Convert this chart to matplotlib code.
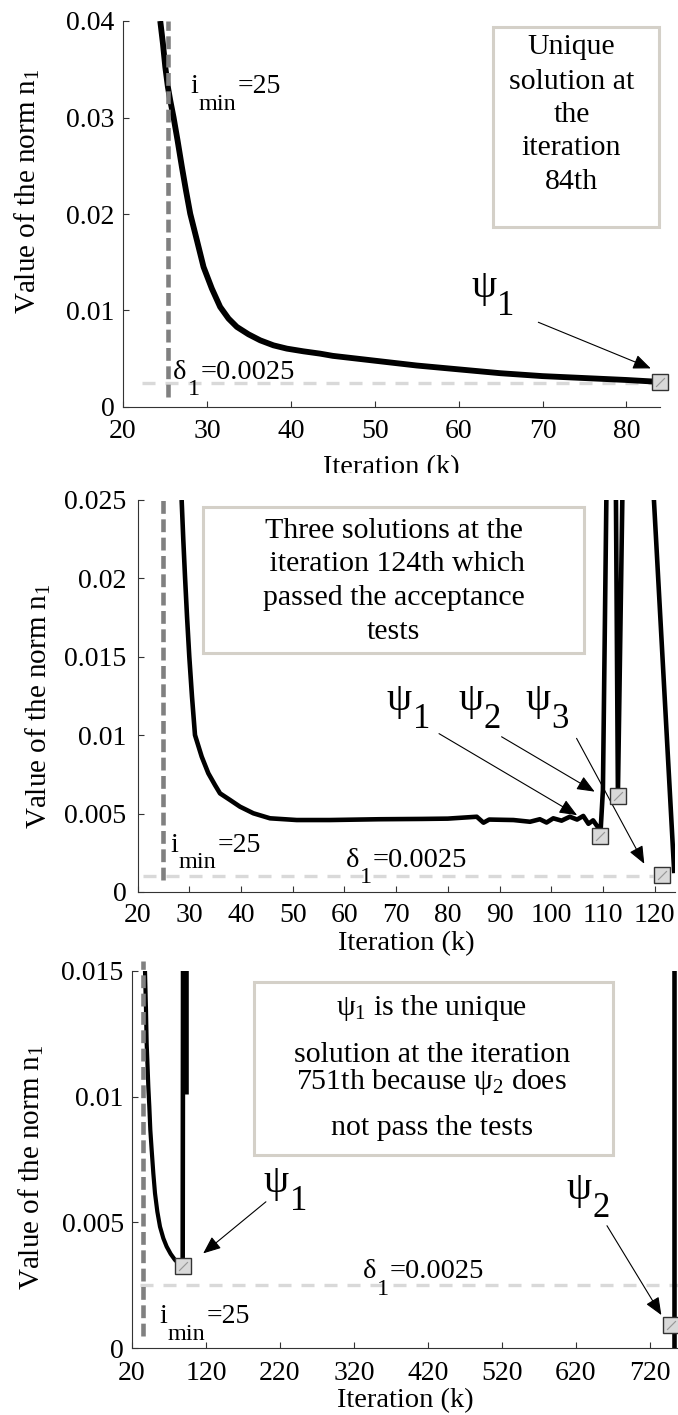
import matplotlib
matplotlib.use("Agg")
import matplotlib.pyplot as plt
from matplotlib.patches import Rectangle
from matplotlib.transforms import Bbox, TransformedBbox

# ---- data ----
# panel 1 : one converging run
p1_iter = [24.44, 24.76, 25.04, 25.35, 25.63, 26.03, 26.50, 27.02, 27.50, 28.01, 28.81, 29.60, 30.59,
           31.58, 32.58, 33.57, 34.96, 36.35, 37.93, 39.52, 41.50, 43.49, 45, 50, 55, 60, 65, 70, 75,
           80, 84]
p1_norm = [0.0400, 0.03765, 0.03524, 0.03316, 0.03178, 0.0300, 0.02764, 0.02487, 0.02246, 0.02004,
           0.01727, 0.01451, 0.01227, 0.01037, 0.00916, 0.00830, 0.00753, 0.00691, 0.00639, 0.00605,
           0.00577, 0.00553, 0.0053, 0.0048, 0.0043, 0.0039, 0.0035, 0.0032, 0.0030, 0.0028, 0.0026]
p1_sol_iter = [84]
p1_sol_norm = [0.0026]

# panel 2 : three solutions
p2_iter = [28.52, 28.84, 29.17, 29.56, 30.0, 30.52, 31.10, 32.40, 33.68, 34.97, 35.94, 37.87, 39.81,
           42.39, 45.61, 50.77, 57.2, 66.7, 75, 80, 85.6, 86.9, 88, 92.7, 95.9, 97.8, 99.1, 100.4, 102,
           103.6, 105, 106.2, 107.2, 108.1, 109.1, 109.5, 110.0, 110.7]
p2_norm = [0.0250, 0.02245, 0.02011, 0.01756, 0.0150, 0.01246, 0.01001, 0.00863, 0.00757, 0.00682,
           0.00629, 0.00587, 0.00544, 0.00502, 0.0047, 0.00459, 0.00459, 0.00464, 0.00466, 0.00468,
           0.0048, 0.00442, 0.00462, 0.00459, 0.00448, 0.00464, 0.00443, 0.0047, 0.00455, 0.0048,
           0.00462, 0.00485, 0.00435, 0.00457, 0.0041, 0.0036, 0.0065, 0.026]
p2_b_iter = [112.5, 112.9, 113.8]
p2_b_norm = [0.026, 0.0062, 0.026]
p2_c_iter = [119.7, 123.8]
p2_c_norm = [0.026, 0.0012]
p2_sol_iter = [109.5, 113.0, 121.4]
p2_sol_norm = [0.0036, 0.0061, 0.0011]

# panel 3 : long run up to 751
p3_iter = [37.3, 37.57, 38.92, 39.82, 40.72, 42.07, 43.42, 44.77, 46.58, 48.83, 51.08, 54.23, 57.84,
           62.34, 66.85, 72.25, 78.11, 83.96, 88.47]
p3_norm = [0.0155, 0.0150, 0.01344, 0.01212, 0.01145, 0.01039, 0.0096, 0.00867, 0.00788, 0.00695,
           0.00616, 0.00543, 0.00483, 0.00437, 0.00404, 0.00375, 0.00351, 0.00335, 0.00325]
p3_b_iter = [88.5, 89.0]
p3_b_norm = [0.00325, 0.0155]
p3_c_iter = [92.7, 92.7]
p3_c_norm = [0.0101, 0.0155]
p3_d_iter = [753, 753]
p3_d_norm = [0.0155, 0.0]
p3_sol_iter = [88.5, 748]
p3_sol_norm = [0.00325, 0.00093]

imin_pos = [25.4, 25.0, 34.5]
imin_span = [(0.001, 0.04), (0.00077, 0.025), (0.0005, 0.0154)]
delta_level = [0.0025, 0.0010, 0.0025]
delta_span = [(22.3, 83.0), (21.0, 119.6), (30.8, 758)]

# ---- style ----
plt.rcParams['font.family'] = ['Liberation Serif', 'DejaVu Serif']
plt.rcParams['mathtext.fontset'] = 'custom'
plt.rcParams['mathtext.rm'] = 'Liberation Serif'
plt.rcParams['mathtext.it'] = 'Liberation Serif:italic'
plt.rcParams['mathtext.default'] = 'regular'

W, H = 678, 1415
fig = plt.figure(figsize=(W / 100, H / 100), dpi=100)


def px_axes(left, top, right, bottom):
    return fig.add_axes([left / W, 1 - bottom / H, (right - left) / W, (bottom - top) / H])


def style(ax, xpad=9, ypad=6):
    for s in ['top', 'right']:
        ax.spines[s].set_visible(False)
    for s in ['left', 'bottom']:
        ax.spines[s].set_color('#333333')
        ax.spines[s].set_linewidth(0.8)
    ax.tick_params(direction='in', length=4, width=0.8, color='#333333', labelsize=20)
    ax.tick_params(axis='x', pad=xpad)
    ax.tick_params(axis='y', pad=ypad)


def sub_label(ax, x, y, base, sub, tail='', size=20, sub_size=17.5, drop=12):
    t1 = ax.text(x, y, base, fontsize=size, va='baseline', ha='left')
    t2 = ax.annotate(sub, xy=(1, y), xycoords=(t1, 'data'), xytext=(0.5, -drop),
                     textcoords='offset points', fontsize=sub_size, va='baseline', ha='left')
    if tail:
        ax.annotate(tail, xy=(1, y), xycoords=(t2, 'data'), xytext=(0.5, 0),
                    textcoords='offset points', fontsize=size, va='baseline', ha='left')


def arrow(ax, tail, tip):
    ax.annotate('', xy=tip, xytext=tail,
                arrowprops=dict(arrowstyle='-|>,head_length=0.6,head_width=0.25', color='black',
                                lw=0.8, mutation_scale=18, shrinkA=0, shrinkB=0))


def textbox(ax, rect, lines, xc, ys, size=21.5):
    ax.add_patch(Rectangle((rect[0], rect[1]), rect[2] - rect[0], rect[3] - rect[1],
                           transform=ax.transAxes, facecolor='white', edgecolor='#d4d0c8',
                           lw=2.2, clip_on=False, zorder=5))
    for s, yy in zip(lines, ys):
        ax.text(xc, yy, s, transform=ax.transAxes, ha='center', va='center', fontsize=size, zorder=6)


def guides(ax, i):
    ax.plot(delta_span[i], [delta_level[i]] * 2, color='#d9d9d9', lw=2.4, dashes=(3.9, 3.0), zorder=1)
    ax.plot([imin_pos[i]] * 2, imin_span[i], color='#808080', lw=3.3, dashes=(2.8, 1.2), zorder=4,
            clip_on=False)


def solutions(ax, xs, ys):
    ax.plot(xs, ys, 's', ms=11, mfc='#d9d9d9', mec='#333333', mew=1.0, zorder=7, clip_on=False)
    ax.plot(xs, ys, marker=(2, 2, -45), ls='none', ms=9, mec='#999999', mew=0.6, zorder=8,
            clip_on=False)


def psi(ax, x, y, k):
    sub_label(ax, x, y, 'ψ', k, size=29, sub_size=25, drop=13)


curve = dict(color='black', lw=3.3, solid_capstyle='butt', solid_joinstyle='round', zorder=3)

# ---- panel 1 ----
ax1 = px_axes(123, 21, 660, 407)
style(ax1)
guides(ax1, 0)
ax1.plot(p1_iter, p1_norm, **dict(curve, lw=4.2))
solutions(ax1, p1_sol_iter, p1_sol_norm)
ax1.set_xlim(20, 84)
ax1.set_ylim(0, 0.04)
ax1.set_xticks([20, 30, 40, 50, 60, 70, 80])
ax1.set_yticks([0, 0.01, 0.02, 0.03, 0.04])
ax1.set_yticklabels(['0', '0.01', '0.02', '0.03', '0.04'])
ax1.set_xlabel('Iteration (k)', fontsize=20.5)
ax1.xaxis.set_label_coords(0.5, -0.125)
ax1.xaxis.label.set_va('top')
ax1.xaxis.label.set_clip_box(TransformedBbox(Bbox([[0, 1 - 473 / H], [1, 1]]), fig.transFigure))
ax1.xaxis.label.set_clip_on(True)
ax1.set_ylabel(r'Value of the norm n$_1$', fontsize=21)
ax1.yaxis.set_label_coords(-0.15, 0.56)
textbox(ax1, (0.689, 0.466, 0.998, 0.984), ['Unique', 'solution at', 'the', 'iteration', '84th'],
        0.835, [0.933, 0.842, 0.756, 0.671, 0.583])
sub_label(ax1, 28.0, 0.0325, 'i', 'min', '=25')
sub_label(ax1, 26.0, 0.00294, 'δ', '1', '=0.0025', size=20.5)
psi(ax1, 61.5, 0.0114, '1')
arrow(ax1, (69.5, 0.00878), (82.9, 0.0040))

# ---- panel 2 ----
ax2 = px_axes(137.6, 500, 675.3, 892)
style(ax2, xpad=8, ypad=8)
guides(ax2, 1)
ax2.plot(p2_iter, p2_norm, **curve)
ax2.plot(p2_b_iter, p2_b_norm, **curve)
ax2.plot(p2_c_iter, p2_c_norm, **curve)
solutions(ax2, p2_sol_iter, p2_sol_norm)
ax2.set_xlim(20, 124)
ax2.set_ylim(0, 0.025)
ax2.set_xticks(list(range(20, 121, 10)))
ax2.set_yticks([0, 0.005, 0.01, 0.015, 0.02, 0.025])
ax2.set_yticklabels(['0', '0.005', '0.01', '0.015', '0.02', '0.025'])
ax2.set_xlabel('Iteration (k)', fontsize=20.5)
ax2.xaxis.set_label_coords(0.5, -0.1)
ax2.xaxis.label.set_va('top')
ax2.set_ylabel(r'Value of the norm n$_1$', fontsize=21)
ax2.yaxis.set_label_coords(-0.157, 0.474)
textbox(ax2, (0.122, 0.609, 0.831, 0.983),
        ['Three solutions at the', ' iteration 124th which', 'passed the acceptance', 'tests'],
        0.476, [0.921, 0.838, 0.749, 0.662])
sub_label(ax2, 26.3, 0.00257, 'i', 'min', '=25')
sub_label(ax2, 60.3, 0.00161, 'δ', '1', '=0.0025', size=20.5)
psi(ax2, 68.2, 0.0116, '1')
psi(ax2, 82.0, 0.0116, '2')
psi(ax2, 95.0, 0.0116, '3')
arrow(ax2, (78.3, 0.0101), (105.0, 0.0049))
arrow(ax2, (90.4, 0.0099), (108.4, 0.0064))
arrow(ax2, (104.9, 0.0098), (118.0, 0.0018))

# ---- panel 3 ----
ax3 = px_axes(132, 970.7, 678, 1348.3)
style(ax3)
guides(ax3, 2)
ax3.plot(p3_iter, p3_norm, **dict(curve, lw=3.0))
ax3.plot(p3_b_iter, p3_b_norm, **curve)
ax3.plot(p3_c_iter, p3_c_norm, **curve)
ax3.plot(p3_d_iter, p3_d_norm, **curve)
solutions(ax3, p3_sol_iter, p3_sol_norm)
ax3.set_xlim(20, 758)
ax3.set_ylim(0, 0.015)
ax3.set_xticks(list(range(20, 721, 100)))
ax3.set_yticks([0, 0.005, 0.01, 0.015])
ax3.set_yticklabels(['0', '0.005', '0.01', '0.015'])
ax3.set_xlabel('Iteration (k)', fontsize=20.5)
ax3.xaxis.set_label_coords(0.5, -0.105)
ax3.xaxis.label.set_va('top')
ax3.set_ylabel(r'Value of the norm n$_1$', fontsize=21)
ax3.yaxis.set_label_coords(-0.157, 0.479)
textbox(ax3, (0.224, 0.512, 0.881, 0.971),
        [r'$\psi_1$ is the unique', 'solution at the iteration', r'751th because $\psi_2$ does',
         'not pass the tests'],
        0.549, [0.901, 0.777, 0.706, 0.583])
sub_label(ax3, 56.9, 0.00099, 'i', 'min', '=25')
sub_label(ax3, 332, 0.00278, 'δ', '1', '=0.0025', size=20.5)
psi(ax3, 198, 0.0062, '1')
psi(ax3, 607, 0.00593, '2')
arrow(ax3, (201, 0.00582), (116.2, 0.00377))
arrow(ax3, (662, 0.00487), (735.5, 0.00132))

fig.savefig('out.png', dpi=100)
